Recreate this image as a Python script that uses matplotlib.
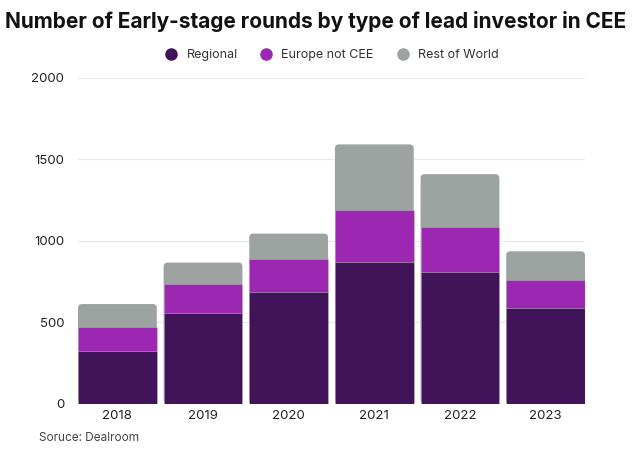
import numpy as np
import matplotlib.pyplot as plt
from matplotlib.patches import FancyBboxPatch
from matplotlib.lines import Line2D

### Data
years = ['2018', '2019', '2020', '2021', '2022', '2023']
regional = np.array([320, 556, 685, 870, 808, 587])
europe_not_cee = np.array([150, 178, 203, 322, 279, 170])
rest_of_world = np.array([141, 132, 156, 400, 322, 178])

labels = ['Regional', 'Europe not CEE', 'Rest of World']
colors = ['#41145a', '#9c27b0', '#9ca3a1']

plt.rcParams['font.family'] = ['Inter', 'DejaVu Sans']

fig = plt.figure(figsize=(6.32, 4.55), dpi=100)
ax = fig.add_axes([78 / 632, 1 - 403.5 / 455, 507 / 632, 325.5 / 455])

x = np.arange(len(years))
width = 0.92
totals = regional + europe_not_cee + rest_of_world

ax.set_xlim(-width / 2, len(years) - 1 + width / 2)
ax.set_ylim(0, 2000)

# top segment as a rounded box drawn under the others (only top corners show)
px_x = (len(years) - 1 + width) / 507
px_y = 2000 / 325.5
for xi, tot in zip(x, totals):
    box = FancyBboxPatch((xi - width / 2, 0), width, tot,
                         boxstyle='round,pad=0,rounding_size=%f' % (4 * px_x),
                         mutation_aspect=px_y / px_x,
                         fc=colors[2], ec='none', zorder=2)
    ax.add_patch(box)

ax.bar(x, europe_not_cee, width, bottom=regional, color=colors[1],
       edgecolor=(1, 1, 1, 0.3), linewidth=0.5, zorder=3)
ax.bar(x, regional, width, color=colors[0],
       edgecolor=(1, 1, 1, 0.3), linewidth=0.5, zorder=4)

ax.set_yticks([0, 500, 1000, 1500, 2000])
ax.grid(axis='y', color='#e8e8e8', lw=0.9, zorder=0)
ax.set_axisbelow(True)
for s in ax.spines.values():
    s.set_visible(False)
ax.axhline(0, color='#dddddd', lw=0.9, zorder=1)

ax.set_xticks(x)
ax.set_xticklabels(years)
ax.tick_params(length=0, labelsize=9.5, colors='#222222')
ax.tick_params(axis='y', pad=10)
ax.tick_params(axis='x', pad=5)

fig.text(0.5, 1 - 22 / 455, 'Number of Early-stage rounds by type of lead investor in CEE',
         ha='center', va='center', fontsize=15, fontweight='bold', color='#111111')

handles = [Line2D([], [], marker='o', ls='none', ms=8, mfc=c, mec=c) for c in colors]
fig.legend(handles, labels, loc='center', bbox_to_anchor=(0.52, 1 - 55 / 455),
           ncol=3, frameon=False, fontsize=9, handletextpad=0.2,
           columnspacing=1.3, labelcolor='#333333')

fig.text(39 / 632, 1 - 438 / 455, 'Soruce: Dealroom', ha='left', va='center',
         fontsize=8.5, color='#444444')

fig.savefig('out.png', dpi=100)
